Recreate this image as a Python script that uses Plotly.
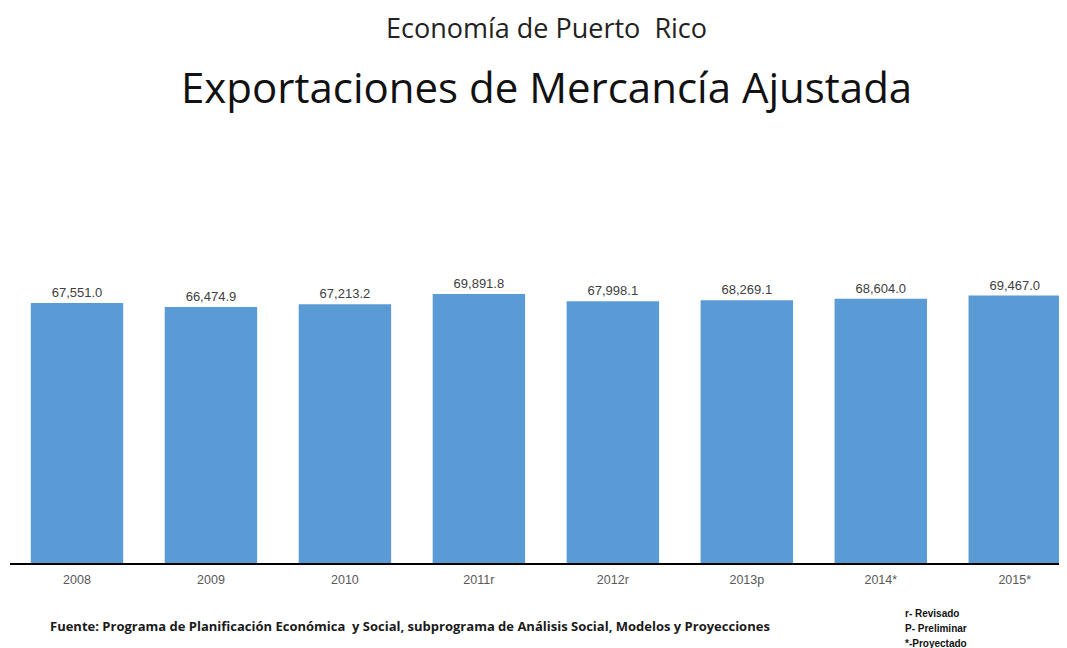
import plotly.graph_objects as go

years = ["2008", "2009", "2010", "2011r", "2012r", "2013p", "2014*", "2015*"]
exports = [67551.0, 66474.9, 67213.2, 69891.8, 67998.1, 68269.1, 68604.0, 69467.0]

title_top = "Economía de Puerto\u00a0\u00a0Rico"
title_main = "Exportaciones de Mercancía Ajustada"
source_note = "Fuente: Programa de Planificación Económica\u00a0 y Social, subprograma de Análisis Social, Modelos y Proyecciones"
legend_notes = ["r- Revisado", "P- Preliminar", "*-Proyectado"]

OFF = 8  # page body margin
W, H = 1067 - OFF, 648 - OFF
MT, MB, ML, MR = 255 - OFF, 85, 10 - OFF, 0
plot_h = H - MT - MB
plot_w = W - ML - MR

def py(pix):
    return (H - MB - (pix - OFF)) / plot_h

def px(pix):
    return ((pix - OFF) - ML) / plot_w

center_shift = (546 - OFF) - (ML + plot_w / 2)

fig = go.Figure()
fig.add_trace(go.Bar(
    x=years, y=exports,
    marker=dict(color="#5B9BD5", line=dict(width=0)),
    texttemplate="%{y:,.1f}", textposition="outside",
    textfont=dict(family="Liberation Sans, Arial", size=13, color="#404040"),
    cliponaxis=False,
))

annotations = [
    dict(text=title_top, x=0.5, xref="paper", y=py(28), yref="paper",
         xanchor="center", yanchor="middle", showarrow=False,
         font=dict(family="Open Sans, Liberation Sans", size=27, color="#222222"),
         xshift=center_shift),
    dict(text=title_main, x=0.5, xref="paper", y=py(86), yref="paper",
         xanchor="center", yanchor="middle", showarrow=False,
         font=dict(family="Open Sans, Liberation Sans", size=42, color="#111111"),
         xshift=center_shift),
    dict(text="<b>" + source_note + "</b>", x=px(48), xref="paper", y=py(626), yref="paper",
         xanchor="left", yanchor="middle", showarrow=False,
         font=dict(family="Open Sans, Liberation Sans", size=13, color="#1a1a1a")),
]
for i, t in enumerate(legend_notes):
    annotations.append(dict(text="<b>" + t + "</b>", x=px(903), xref="paper", y=py(613 + 15 * i), yref="paper",
                            xanchor="left", yanchor="middle", showarrow=False,
                            font=dict(family="Liberation Sans, Arial", size=10, color="#111111")))

fig.update_layout(
    width=W, height=H,
    margin=dict(t=MT, b=MB, l=ML, r=MR),
    paper_bgcolor="white", plot_bgcolor="white",
    bargap=0.31,
    showlegend=False,
    xaxis=dict(range=[-0.5, 7.39], showline=True, linecolor="#000000", linewidth=2,
               ticks="", showgrid=False, ticklabelstandoff=4,
               tickfont=dict(family="Liberation Sans, Arial", size=12.5, color="#595959")),
    yaxis=dict(range=[0, 80000], visible=False, showgrid=False, zeroline=False),
    annotations=annotations,
)

fig.write_html("out.html")
